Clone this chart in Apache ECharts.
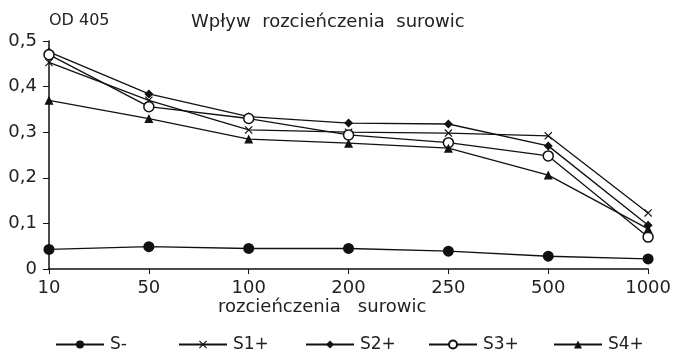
<!DOCTYPE html>
<html><head><meta charset="utf-8">
<script src="https://cdn.jsdelivr.net/npm/echarts@6/dist/echarts.min.js"></script>
<style>html,body{margin:0;padding:0;background:#fff}#c{width:674px;height:353px}</style>
</head><body><div id="c"></div>
<script>
const categories = ['10','50','100','200','250','500','1000'];
const yTicks = [0, 0.1, 0.2, 0.3, 0.4, 0.5];
const seriesNames = ['S-', 'S1+', 'S2+', 'S3+', 'S4+'];
const sMinus = [0.043, 0.049, 0.045, 0.045, 0.039, 0.028, 0.022];
const s1 = [0.453, 0.370, 0.305, 0.300, 0.298, 0.292, 0.123];
const s2 = [0.476, 0.384, 0.334, 0.320, 0.318, 0.270, 0.096];
const s3 = [0.470, 0.356, 0.330, 0.294, 0.277, 0.248, 0.070];
const s4 = [0.370, 0.330, 0.285, 0.276, 0.265, 0.206, 0.088];

const font = 'DejaVu Sans';
const cross = 'path://M1,0L5,4L9,0L10,1L6,5L10,9L9,10L5,6L1,10L0,9L4,5L0,1Z';
function ser(name, data, symbol, size, fill) {
  return {
    name, type: 'line', data, symbol, symbolSize: size,
    lineStyle: { color: '#111', width: 1.3 },
    itemStyle: { color: fill, borderColor: '#111', borderWidth: fill === '#fff' ? 1.5 : 0 },
    emphasis: { disabled: true }, animation: false
  };
}
const legendLefts = [50, 173, 300, 423, 548];
const legends = seriesNames.map((n, i) => ({
  data: [n], left: legendLefts[i], top: 331, itemWidth: 48, itemHeight: 10, itemGap: 0,
  textStyle: { fontFamily: font, fontSize: 17, color: '#222', padding: [0, 0, 0, 1] }
}));
const chart = echarts.init(document.getElementById('c'));
chart.setOption({
  backgroundColor: '#fff',
  animation: false,
  title: [
    { text: 'OD 405', left: 44, top: 8, textStyle: { fontFamily: font, fontSize: 16, fontWeight: 'normal', color: '#222' } },
    { text: 'Wpływ  rozcieńczenia  surowic', left: 186, top: 8, textStyle: { fontFamily: font, fontSize: 18, fontWeight: 'normal', color: '#222' } }
  ],
  graphic: [
    { type: 'text', left: 218, top: 298, style: { text: 'rozcieńczenia   surowic', font: '18px "DejaVu Sans"', fill: '#222' } }
  ],
  grid: { left: 49, right: 21, top: 41, bottom: 84 },
  legend: legends,
  xAxis: {
    type: 'category', data: categories, boundaryGap: false,
    axisLine: { lineStyle: { color: '#111', width: 1.5 } },
    axisTick: { show: true, length: 5, lineStyle: { color: '#111' } },
    axisLabel: { fontFamily: font, fontSize: 18, color: '#222', margin: 10 },
    splitLine: { show: false }
  },
  yAxis: {
    type: 'value', min: yTicks[0], max: yTicks[yTicks.length - 1], interval: 0.1,
    axisLine: { show: true, lineStyle: { color: '#111', width: 1.5 } },
    axisTick: { show: true, length: 6, lineStyle: { color: '#111' } },
    axisLabel: { fontFamily: font, fontSize: 18, color: '#222', margin: 12,
      formatter: v => v === 0 ? '0' : v.toFixed(1).replace('.', ',') },
    splitLine: { show: false }
  },
  series: [
    ser(seriesNames[0], sMinus, 'circle', 11, '#111'),
    ser(seriesNames[1], s1, cross, 8, '#111'),
    ser(seriesNames[2], s2, 'diamond', 9, '#111'),
    ser(seriesNames[3], s3, 'circle', 10, '#fff'),
    ser(seriesNames[4], s4, 'triangle', 9, '#111')
  ]
});
</script></body></html>
